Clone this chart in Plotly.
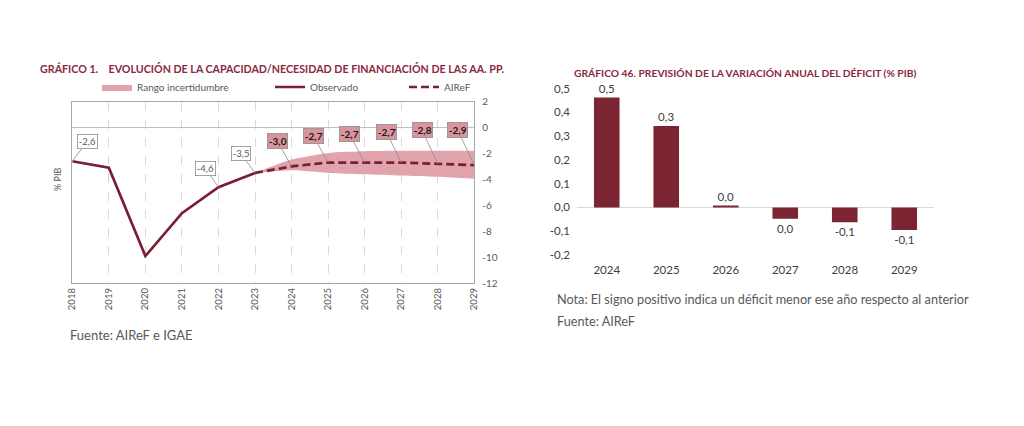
import plotly.graph_objects as go

# ---------------- data: left chart ----------------
obs_years = [2018, 2019, 2020, 2021, 2022, 2023]
obs_values = [-2.6, -3.1, -9.9, -6.6, -4.6, -3.5]
fc_years = [2023, 2024, 2025, 2026, 2027, 2028, 2029]
fc_values = [-3.5, -3.0, -2.7, -2.7, -2.7, -2.8, -2.9]
band_upper = [-3.5, -2.47, -1.96, -1.83, -1.8, -1.8, -1.8]
band_lower = [-3.5, -3.3, -3.5, -3.6, -3.7, -3.8, -3.95]
left_xticks = list(range(2018, 2030))
left_yticks = [2, 0, -2, -4, -6, -8, -10, -12]
obs_label_years = [2018, 2022, 2023]

# ---------------- data: right chart ----------------
bar_years = ["2024", "2025", "2026", "2027", "2028", "2029"]
bar_values = [0.462, 0.342, 0.007, -0.048, -0.062, -0.095]
right_yticks = [0.5, 0.4, 0.3, 0.2, 0.1, 0.0, -0.1, -0.2]

MAROON = "#7A1F33"
BAR = "#7C2532"
PINK = "#E2A4AC"
BOXPINK = "#D9939C"
TITLE = "#8B2840"
GREY = "#595959"
FONT = "Lato"

W, H, OFF = 1024, 426, 8  # page body margin offset


def px(x):
    return (x - OFF) / W


def py(y):
    return 1 - (y - OFF) / H


def fmt(v):
    r = round(v, 1) + 0.0
    return f"{r:.1f}".replace(".", ",")


fig = go.Figure()

# uncertainty band
fig.add_trace(go.Scatter(x=fc_years, y=band_lower, mode="lines", line=dict(width=0, color=PINK, shape="spline", smoothing=0.6),
                         showlegend=False, hoverinfo="skip", xaxis="x", yaxis="y"))
fig.add_trace(go.Scatter(x=fc_years, y=band_upper, mode="lines", line=dict(width=0, color=PINK, shape="spline", smoothing=0.6),
                         fill="tonexty", fillcolor=PINK, name="Rango incertidumbre",
                         legend="legend", xaxis="x", yaxis="y"))
fig.add_trace(go.Scatter(x=obs_years, y=obs_values, mode="lines", line=dict(width=2.7, color=MAROON),
                         name="Observado", legend="legend2", xaxis="x", yaxis="y"))
fig.add_trace(go.Scatter(x=fc_years, y=fc_values, mode="lines",
                         line=dict(width=2.7, color=MAROON, dash="8px,4px"),
                         name="AIReF", legend="legend3", xaxis="x", yaxis="y"))

# bars
fig.add_trace(go.Bar(x=bar_years, y=bar_values, marker=dict(color=BAR, line=dict(width=0)),
                     width=0.43, showlegend=False, xaxis="x2", yaxis="y2",
                     text=[fmt(v) for v in bar_values], textposition="outside", constraintext="none",
                     cliponaxis=False, textfont=dict(family=FONT, size=11.5, color="#404040")))

annotations = []
# observed labels
obs_offsets = {2018: (15, -20), 2022: (-13, -19), 2023: (-14, -19)}
for yr in obs_label_years:
    v = obs_values[obs_years.index(yr)]
    ax, ay = obs_offsets[yr]
    annotations.append(dict(x=yr, y=v, xref="x", yref="y", text=fmt(v), showarrow=True,
                            arrowhead=0, arrowwidth=0.8, arrowcolor="#8c8c8c", ax=ax, ay=ay,
                            bgcolor="white", bordercolor="#8c8c8c", borderwidth=0.8, borderpad=1,
                            font=dict(family=FONT, size=9.5, color=GREY)))
# forecast labels
fc_offsets = [(-14, -25), (-15, -27), (-15.5, -29), (-15, -31), (-15.6, -33.6), (-16.5, -35)]
for (yr, v), (ax, ay) in zip(list(zip(fc_years, fc_values))[1:], fc_offsets):
    annotations.append(dict(x=yr, y=v, xref="x", yref="y", text="<b>" + fmt(v) + "</b>", showarrow=True,
                            arrowhead=0, arrowwidth=0.8, arrowcolor="#8c8c8c", ax=ax, ay=ay,
                            bgcolor=BOXPINK, bordercolor="#8c8c8c", borderwidth=0.8, borderpad=1,
                            font=dict(family=FONT, size=10, color="#1a1a1a")))

# titles and notes
annotations += [
    dict(x=px(38), y=py(68), xref="paper", yref="paper", xanchor="left", yanchor="middle",
         text="<b>GRÁFICO 1.    EVOLUCIÓN DE LA CAPACIDAD/NECESIDAD DE FINANCIACIÓN DE LAS AA. PP.</b>",
         showarrow=False, font=dict(family=FONT, size=10.7, color=TITLE)),
    dict(x=px(572), y=py(73), xref="paper", yref="paper", xanchor="left", yanchor="middle",
         text="<b>GRÁFICO 46. PREVISIÓN DE LA VARIACIÓN ANUAL DEL DÉFICIT (% PIB)</b>",
         showarrow=False, font=dict(family=FONT, size=10.3, color=TITLE)),
    dict(x=px(57), y=py(180), xref="paper", yref="paper", xanchor="center", yanchor="middle",
         text="% PIB", textangle=-90, showarrow=False, font=dict(family=FONT, size=9, color=GREY)),
    dict(x=px(68), y=py(335), xref="paper", yref="paper", xanchor="left", yanchor="middle",
         text="Fuente: AIReF e IGAE", showarrow=False, font=dict(family=FONT, size=13, color=GREY)),
    dict(x=px(555), y=py(299), xref="paper", yref="paper", xanchor="left", yanchor="middle",
         text="Nota: El signo positivo indica un déficit menor ese año respecto al anterior",
         showarrow=False, font=dict(family=FONT, size=12.7, color=GREY)),
    dict(x=px(555), y=py(321), xref="paper", yref="paper", xanchor="left", yanchor="middle",
         text="Fuente: AIReF", showarrow=False, font=dict(family=FONT, size=12.7, color=GREY)),
]

legend_common = dict(orientation="h", yanchor="middle", xanchor="left", bgcolor="rgba(0,0,0,0)",
                     font=dict(family=FONT, size=10, color=GREY), itemwidth=30)

fig.update_layout(
    template="none",
    width=W, height=H, margin=dict(l=0, r=0, t=0, b=0, pad=0, autoexpand=False),
    paper_bgcolor="white", plot_bgcolor="white", separators=",.",
    font=dict(family=FONT, color=GREY),
    annotations=annotations,
    legend=dict(x=px(97), y=py(87), **legend_common),
    legend2=dict(x=px(270), y=py(87), **legend_common),
    legend3=dict(x=px(404), y=py(87), **legend_common),
    xaxis=dict(domain=[px(72.3), px(474.3)], range=[2018, 2029], tickvals=left_xticks,
               ticktext=[str(t) for t in left_xticks], tickangle=-90, automargin=False,
               showgrid=True, griddash="dash", gridcolor="#d9d9d9", gridwidth=1,
               showline=True, mirror=True, linecolor="#a6a6a6", linewidth=1, zeroline=False,
               ticks="", tickfont=dict(family=FONT, size=9.5, color=GREY), anchor="y"),
    yaxis=dict(domain=[py(283.3), py(101.5)], range=[-12, 2], side="right",
               tickvals=left_yticks, ticktext=[str(t) for t in left_yticks], automargin=False,
               showgrid=False, zeroline=True, zerolinecolor="#bfbfbf", zerolinewidth=1,
               showline=True, mirror=True, linecolor="#a6a6a6", linewidth=1, ticks="",
               ticklabelstandoff=5,
               tickfont=dict(family=FONT, size=10, color=GREY), anchor="x"),
    xaxis2=dict(domain=[px(577), px(934)], range=[-0.5, 5.5], type="category", automargin=False,
                showgrid=False, showline=False, zeroline=False, ticks="", ticklabelstandoff=6,
                tickfont=dict(family=FONT, size=11.5, color="#404040"), anchor="y2"),
    yaxis2=dict(domain=[py(255), py(88.5)], range=[-0.2, 0.5], automargin=False,
                tickvals=right_yticks, ticktext=[fmt(t) for t in right_yticks],
                showgrid=False, zeroline=True, zerolinecolor="#d9d9d9", zerolinewidth=1,
                showline=False, ticks="", ticklabelstandoff=6,
                tickfont=dict(family=FONT, size=11.5, color="#404040"), anchor="x2"),
)

fig.write_html("out.html")
